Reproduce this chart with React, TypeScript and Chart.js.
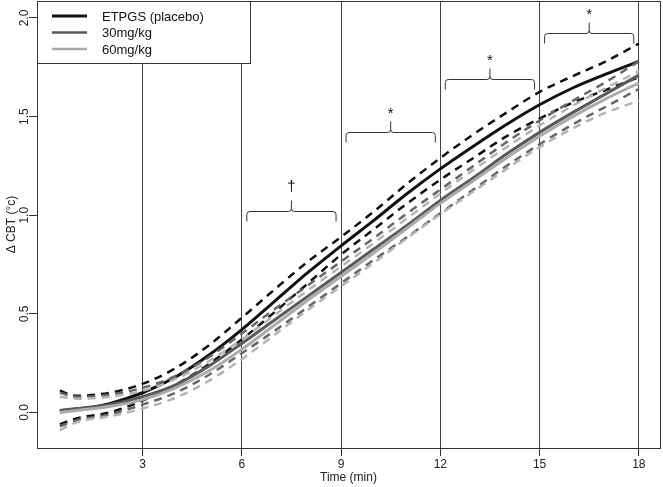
import React, { useEffect, useRef } from 'react';
import { Chart, registerables } from 'chart.js';
Chart.register(...registerables);

const FONT = '"Liberation Sans", Arial, sans-serif';

const times = [0.5, 1, 2, 3, 4, 5, 6, 7, 8, 9, 10, 11, 12, 13, 14, 15, 16, 17, 18];

const placeboMean = [0.01, 0.015, 0.045, 0.10, 0.18, 0.29, 0.42, 0.565, 0.71, 0.845, 0.975, 1.11, 1.235, 1.35, 1.46, 1.56, 1.645, 1.715, 1.78];
const placeboUpper = [0.11, 0.085, 0.10, 0.145, 0.225, 0.34, 0.48, 0.625, 0.765, 0.89, 1.02, 1.16, 1.29, 1.41, 1.52, 1.625, 1.705, 1.78, 1.87];
const placeboLower = [-0.06, -0.03, 0.0, 0.06, 0.14, 0.245, 0.37, 0.51, 0.655, 0.80, 0.93, 1.06, 1.18, 1.29, 1.40, 1.49, 1.57, 1.635, 1.70];

const mg30Mean = [0.01, 0.02, 0.04, 0.08, 0.14, 0.235, 0.35, 0.47, 0.59, 0.71, 0.83, 0.95, 1.075, 1.19, 1.31, 1.42, 1.52, 1.615, 1.71];
const mg30Upper = [0.10, 0.08, 0.09, 0.125, 0.185, 0.28, 0.40, 0.525, 0.645, 0.765, 0.885, 1.01, 1.13, 1.25, 1.37, 1.48, 1.58, 1.675, 1.78];
const mg30Lower = [-0.07, -0.04, -0.01, 0.04, 0.10, 0.19, 0.30, 0.415, 0.535, 0.655, 0.775, 0.89, 1.01, 1.13, 1.25, 1.36, 1.46, 1.55, 1.64];

const mg60Mean = [0.0, 0.01, 0.03, 0.065, 0.125, 0.21, 0.32, 0.445, 0.57, 0.69, 0.81, 0.935, 1.06, 1.175, 1.29, 1.40, 1.50, 1.59, 1.67];
const mg60Upper = [0.08, 0.07, 0.08, 0.11, 0.17, 0.26, 0.37, 0.495, 0.62, 0.74, 0.86, 0.985, 1.11, 1.23, 1.345, 1.455, 1.555, 1.645, 1.73];
const mg60Lower = [-0.09, -0.05, -0.02, 0.02, 0.075, 0.16, 0.27, 0.395, 0.52, 0.64, 0.76, 0.885, 1.005, 1.12, 1.235, 1.345, 1.44, 1.52, 1.58];

const seriesNames = ['ETPGS (placebo)', '30mg/kg', '60mg/kg'];
const seriesColors = ['#111111', '#5a5a5a', '#ababab'];
const ciColors = ['#111111', '#666666', '#b3b3b3'];

const xTicks = [3, 6, 9, 12, 15, 18];
const yTicks = [0, 0.5, 1, 1.5, 2];
const yTickLabels = ['0.0', '0.5', '1.0', '1.5', '2.0'];

const bracketStart = [6, 9, 12, 15];
const bracketEnd = [9, 12, 15, 18];
const bracketLevel = [1.02, 1.42, 1.69, 1.925];
const bracketLabels = ['\u2020', '*', '*', '*'];

const xTitle = 'Time (min)';
const yTitle = '\u0394 CBT (\u00b0c)';

const pts = (ys: number[]) => times.map((t, i) => ({ x: t, y: ys[i] }));

const rPlugin = {
  id: 'rStyle',
  afterDatasetsDraw(chart: any) {
    const { ctx, chartArea, scales } = chart;
    const xs = scales.x;
    const ys = scales.y;
    ctx.save();
    // brackets
    ctx.strokeStyle = '#333';
    ctx.lineWidth = 1;
    ctx.fillStyle = '#111';
    for (let i = 0; i < bracketStart.length; i++) {
      const x1 = xs.getPixelForValue(bracketStart[i]) + 5;
      const x2 = xs.getPixelForValue(bracketEnd[i]) - 5;
      const xm = (x1 + x2) / 2;
      const y = Math.round(ys.getPixelForValue(bracketLevel[i])) + 0.5;
      const r = 3;
      ctx.beginPath();
      ctx.moveTo(x1, y + 10);
      ctx.lineTo(x1, y + r);
      ctx.quadraticCurveTo(x1, y, x1 + r, y);
      ctx.lineTo(xm - r, y);
      ctx.quadraticCurveTo(xm, y, xm, y - r);
      ctx.lineTo(xm, y - 11);
      ctx.moveTo(xm, y - r);
      ctx.quadraticCurveTo(xm, y, xm + r, y);
      ctx.lineTo(x2 - r, y);
      ctx.quadraticCurveTo(x2, y, x2, y + r);
      ctx.lineTo(x2, y + 10);
      ctx.stroke();
      const lab = bracketLabels[i];
      ctx.font = `15px ${FONT}`;
      ctx.textAlign = 'center';
      ctx.textBaseline = 'alphabetic';
      ctx.fillText(lab, xm, y - (lab === '*' ? 15 : 21));
    }
    // frame
    ctx.strokeStyle = '#333';
    ctx.lineWidth = 1;
    ctx.strokeRect(Math.round(chartArea.left) + 0.5, Math.round(chartArea.top) + 0.5,
      Math.round(chartArea.right - chartArea.left), Math.round(chartArea.bottom - chartArea.top));
    // y tick labels, rotated
    ctx.fillStyle = '#222';
    ctx.font = `12px ${FONT}`;
    ctx.textAlign = 'center';
    ctx.textBaseline = 'middle';
    yTicks.forEach((v, i) => {
      const py = ys.getPixelForValue(v);
      ctx.save();
      ctx.translate(25, py);
      ctx.rotate(-Math.PI / 2);
      ctx.fillText(yTickLabels[i], 0, 0);
      ctx.restore();
    });
    // axis titles
    ctx.fillText(xTitle, (chartArea.left + chartArea.right) / 2, 478);
    ctx.save();
    ctx.translate(12, (chartArea.top + chartArea.bottom) / 2);
    ctx.rotate(-Math.PI / 2);
    ctx.fillText(yTitle, 0, 0);
    ctx.restore();
    // legend
    const lx = Math.round(chartArea.left) + 0.5;
    const ly = Math.round(chartArea.top) + 0.5;
    const lw = 213;
    const lh = 62;
    ctx.fillStyle = '#fff';
    ctx.fillRect(lx, ly, lw, lh);
    ctx.strokeStyle = '#333';
    ctx.strokeRect(lx, ly, lw, lh);
    ctx.font = `13px ${FONT}`;
    ctx.textAlign = 'left';
    ctx.textBaseline = 'middle';
    seriesNames.forEach((name, i) => {
      const yy = 16 + i * 16.5;
      ctx.strokeStyle = seriesColors[i];
      ctx.lineWidth = i === 0 ? 3 : 2.5;
      ctx.beginPath();
      ctx.moveTo(52, yy);
      ctx.lineTo(87, yy);
      ctx.stroke();
      ctx.fillStyle = '#111';
      ctx.fillText(name, 102, yy + 1);
    });
    ctx.restore();
  },
};

export default function App() {
  const ref = useRef<HTMLCanvasElement | null>(null);
  useEffect(() => {
    if (!ref.current) return;
    const mk = (label: string, data: number[], color: string, dashed: boolean) => ({
      label,
      data: pts(data),
      borderColor: color,
      backgroundColor: color,
      borderWidth: dashed ? 2.5 : 3,
      borderDash: dashed ? [8, 6] : [],
      pointRadius: 0,
      fill: false,
      cubicInterpolationMode: 'monotone' as const,
    });
    const datasets = [
      mk('60 lower', mg60Lower, ciColors[2], true),
      mk('60 upper', mg60Upper, ciColors[2], true),
      mk(seriesNames[2], mg60Mean, seriesColors[2], false),
      mk('30 lower', mg30Lower, ciColors[1], true),
      mk('30 upper', mg30Upper, ciColors[1], true),
      mk(seriesNames[1], mg30Mean, seriesColors[1], false),
      mk('placebo lower', placeboLower, ciColors[0], true),
      mk('placebo upper', placeboUpper, ciColors[0], true),
      mk(seriesNames[0], placeboMean, seriesColors[0], false),
    ];
    const chart = new Chart(ref.current, {
      type: 'line',
      data: { datasets },
      options: {
        animation: false,
        responsive: false,
        parsing: false as any,
        layout: { padding: { top: 1, right: 3, left: 0, bottom: 0 } },
        plugins: { legend: { display: false }, tooltip: { enabled: false } },
        scales: {
          x: {
            type: 'linear',
            min: -0.19,
            max: 18.64,
            afterBuildTicks: (s: any) => { s.ticks = xTicks.map((v) => ({ value: v })); },
            afterFit: (s: any) => { s.height = 39; },
            border: { display: false },
            grid: { color: '#444', lineWidth: 1, drawTicks: true, tickLength: 8, tickColor: '#333' },
            ticks: { color: '#222', font: { family: FONT, size: 12 }, padding: 1, maxRotation: 0, autoSkip: false,
              callback: (v: any) => String(v) },
          },
          y: {
            type: 'linear',
            min: -0.18,
            max: 2.086,
            afterBuildTicks: (s: any) => { s.ticks = yTicks.map((v) => ({ value: v })); },
            afterFit: (s: any) => { s.width = 37; },
            border: { display: false },
            grid: { drawOnChartArea: false, drawTicks: true, tickLength: 8, tickColor: '#333' },
            ticks: { display: false },
          },
        },
      },
      plugins: [rPlugin],
    });
    return () => chart.destroy();
  }, []);
  return (
    <div style={{ position: 'absolute', left: 0, top: 0, width: 663, height: 487, background: '#fff' }}>
      <canvas ref={ref} width={663} height={487} />
    </div>
  );
}
